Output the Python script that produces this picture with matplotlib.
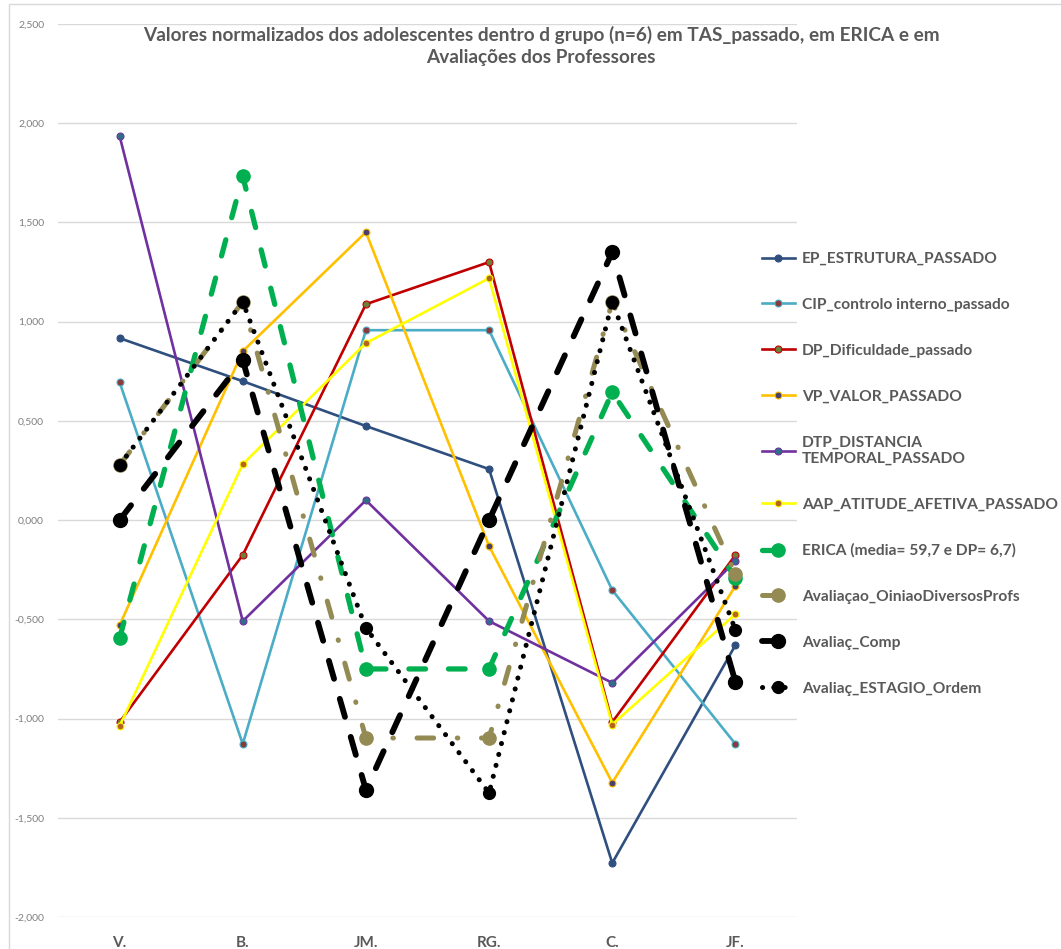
import matplotlib
matplotlib.use('Agg')
import matplotlib.pyplot as plt
from matplotlib.ticker import FuncFormatter
from matplotlib.patches import Rectangle

plt.rcParams['font.family'] = ['Lato', 'DejaVu Sans']
plt.rcParams['lines.scale_dashes'] = False

# Alunos e valores normalizados
alunos = ['V.', 'B.', 'JM.', 'RG.', 'C.', 'JF.']
ep_estrutura = [0.917, 0.700, 0.474, 0.257, -1.728, -0.630]
cip_controlo = [0.695, -1.128, 0.957, 0.957, -0.353, -1.128]
dp_dificuldade = [-1.018, -0.176, 1.088, 1.300, -1.018, -0.176]
vp_valor = [-0.530, 0.851, 1.451, -0.131, -1.323, -0.332]
dtp_distancia = [1.936, -0.509, 0.100, -0.509, -0.820, -0.207]
aap_atitude = [-1.038, 0.282, 0.892, 1.219, -1.030, -0.474]
erica = [-0.596, 1.733, -0.750, -0.750, 0.645, -0.290]
aval_profs = [0.277, 1.100, -1.098, -1.098, 1.100, -0.272]
aval_comp = [0.000, 0.806, -1.360, 0.000, 1.350, -0.815]
aval_estagio = [0.277, 1.100, -0.544, -1.375, 1.100, -0.554]

x = list(range(len(alunos)))
grey = '#595959'

fig = plt.figure(figsize=(10.61, 9.49), dpi=100)
ax = fig.add_axes([58 / 1061, 1 - 917 / 949, 739 / 1061, 893 / 949])

# séries finas (TAS_passado)
thin = [
    (ep_estrutura, 'EP_ESTRUTURA_PASSADO', '#2F4F7F', '#2F4F7F'),
    (cip_controlo, 'CIP_controlo interno_passado', '#4BACC6', '#8B3A3A'),
    (dp_dificuldade, 'DP_Dificuldade_passado', '#C00000', '#6E7F3A'),
    (vp_valor, 'VP_VALOR_PASSADO', '#FFC000', '#4B3F6B'),
    (dtp_distancia, 'DTP_DISTANCIA\nTEMPORAL_PASSADO', '#7030A0', '#2F6F86'),
    (aap_atitude, 'AAP_ATITUDE_AFETIVA_PASSADO', '#FFFF00', '#B5651D'),
]
for vals, lab, col, face in thin:
    ax.plot(x, vals, color=col, lw=1.9, marker='o', ms=5,
            mfc=face, mec=col, mew=0.8, label=lab, zorder=3)

# ERICA e avaliações dos professores
l, = ax.plot(x, erica, color='#00B050', lw=3.8, marker='o', ms=9.5,
             dash_capstyle='round', label='ERICA (media= 59,7 e DP= 6,7)', zorder=4)
l.set_dashes([12, 16.5])
l, = ax.plot(x, aval_profs, color='#948A54', lw=3.6, marker='o', ms=9.5,
             dash_capstyle='round', label='Avaliaçao_OiniaoDiversosProfs', zorder=4)
l.set_dashes([12, 17, 0.4, 17])
l, = ax.plot(x, aval_comp, color='black', lw=4.2, marker='o', ms=10,
             dash_capstyle='round', label='Avaliaç_Comp', zorder=5)
l.set_dashes([13.5, 15])
l, = ax.plot(x, aval_estagio, color='black', lw=3.6, marker='o', ms=8.5,
             mfc='black', mec='black',
             dash_capstyle='round', label='Avaliaç_ESTAGIO_Ordem', zorder=6)
l.set_dashes([0.1, 8])

ax.set_xlim(-0.5, 5.5)
ax.set_ylim(-2.0, 2.5)
ax.set_yticks([-2.0, -1.5, -1.0, -0.5, 0.0, 0.5, 1.0, 1.5, 2.0, 2.5])
ax.yaxis.set_major_formatter(FuncFormatter(lambda v, p: f'{v:.3f}'.replace('.', ',')))
ax.set_xticks(x)
ax.set_xticklabels(alunos, fontsize=11, fontweight='bold', color=grey)
ax.tick_params(axis='x', length=0, pad=14)
ax.tick_params(axis='y', length=0, pad=10, labelsize=7.5, labelcolor='#7F7F7F')
ax.grid(axis='y', color='#D9D9D9', lw=1)
ax.set_axisbelow(True)
for s in ax.spines.values():
    s.set_visible(False)

fig.text(0.51, 0.952,
         'Valores normalizados dos adolescentes dentro d grupo (n=6) em TAS_passado, em ERICA e em\n'
         'Avaliações dos Professores',
         ha='center', va='center', fontsize=13.7, fontweight='bold', color=grey, linespacing=1.35)

leg = fig.legend(loc='upper left', bbox_to_anchor=(762 / 1061, 1 - 252 / 949),
                 frameon=False, fontsize=11.2, labelspacing=2.05, handlelength=2.1,
                 handletextpad=0.45, numpoints=1, borderaxespad=0, borderpad=0)
for t in leg.get_texts():
    t.set_color(grey)
    t.set_fontweight('bold')

# moldura da área do gráfico
fig.patches.append(Rectangle((9 / 1061, -0.01), 1.0, 1 - 4 / 949 + 0.01,
                             transform=fig.transFigure, fill=False,
                             edgecolor='#D9D9D9', lw=1))

fig.savefig('out.png', dpi=100)
